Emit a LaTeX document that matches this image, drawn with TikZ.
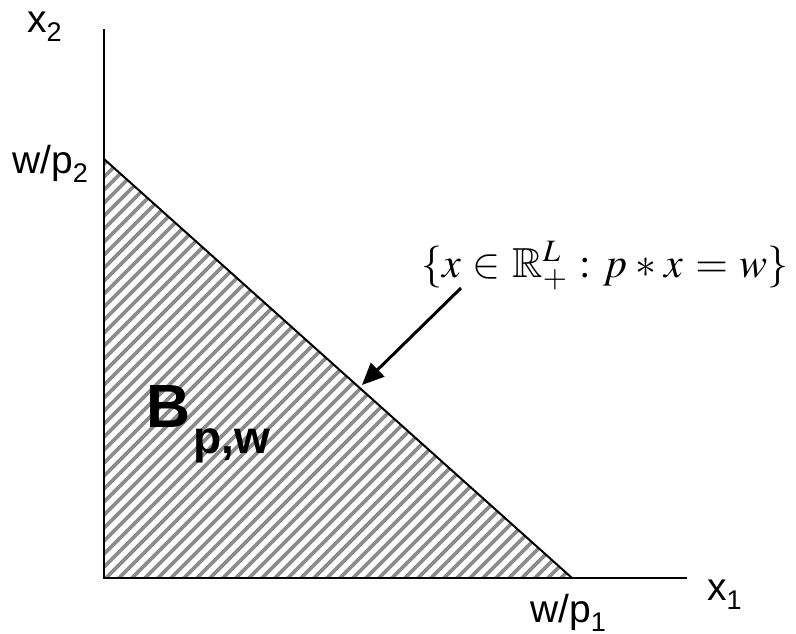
\documentclass[tikz,border=0pt]{standalone}
\usepackage{mathptmx}
\usepackage{amssymb}
\usepackage{fontspec}
\setmainfont{Liberation Sans}
\usetikzlibrary{arrows.meta}
\newcommand{\lbl}[2]{{\fontsize{39}{40}\selectfont #1\raisebox{-9pt}{\fontsize{27}{28}\selectfont #2}}}
\newcommand{\gp}{\hspace{2.5pt}}
\tikzset{
  axis/.style={line width=2pt, black},
  budget/.style={line width=2pt, black},
  hatch/.style={line width=3.6pt, gray!90},
  lab/.style={inner sep=0pt, anchor=base west},
  pointer/.style={line width=3pt, -{Triangle[length=22pt,width=19pt]}}
}
\begin{document}
\begin{tikzpicture}[x=1pt,y=-1pt]
\useasboundingbox (0,0) rectangle (796,634);
\coordinate (O) at (104,578);
\coordinate (Ytop) at (104,29);
\coordinate (Xend) at (687,578);
\coordinate (A) at (104,159);
\coordinate (B) at (572,578);
\coordinate (S) at (461,288);
\coordinate (T) at (362,385);
\begin{scope}
  \clip (O) -- (A) -- (B) -- cycle;
  \foreach \c in {268,281,...,1170} {
    \draw[hatch] (\c-600,600) -- (\c-140,140);
  }
\end{scope}
\draw[axis] (Ytop) -- (O) -- (Xend);
\draw[budget] (A) -- (B);
\draw[pointer] (S) -- (T);
\node[lab] (x2) at (27,33) {\lbl{x}{2}};
\node[lab] (wp2) at (12,173) {\lbl{w/p}{2}};
\node[lab] (wp1) at (530,622) {\lbl{w/p}{1}};
\node[lab] (x1) at (707,600) {\lbl{x}{1}};
\node[lab] (set) at (421,277) {\fontsize{42}{44}\selectfont $\{x\gp\in\gp\mathbb{R}^{L}_{+}\gp:\gp p\gp*\gp x\gp=\gp w\}$};
\node[lab] (Bpw) at (146,427) {\fontsize{61}{61}\selectfont\bfseries B\hspace{3pt}\raisebox{-26pt}{\fontsize{46}{46}\selectfont p,w}};
\end{tikzpicture}
\end{document}
